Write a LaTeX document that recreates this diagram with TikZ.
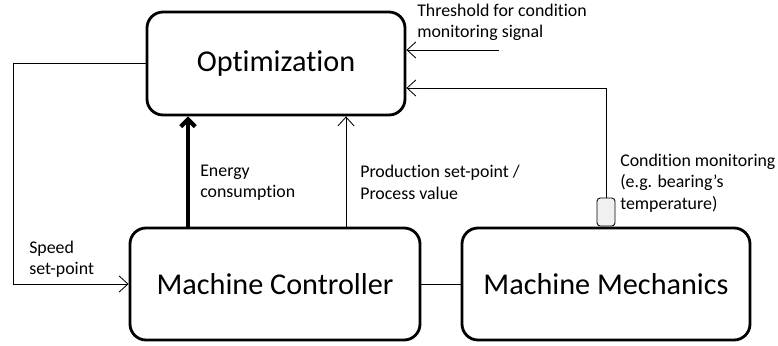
\documentclass[tikz,border=0pt]{standalone}
\usepackage{fontspec}
\setmainfont{Carlito}[Ligatures=NoCommon]
\usetikzlibrary{arrows.meta}
\tikzset{
	block/.style={draw, line width=2pt, rounded corners=0.4cm, font=\fontsize{21.5}{26}\selectfont},
	sensor/.style={draw, line width=0.6pt, rounded corners=0.08cm, fill=gray!12, minimum width=0.45cm, minimum height=0.7cm, inner sep=0pt},
	lbl/.style={align=left, anchor=west, inner sep=0pt, font=\fontsize{12.7}{15.2}\selectfont},
	signal/.style={line width=0.6pt, -{Straight Barb[length=2.2mm, width=4mm]}},
	energy/.style={line width=3pt, -{Straight Barb[length=1.8mm, width=3.6mm]}}
}
\begin{document}
\begin{tikzpicture}
	\useasboundingbox (0,0) rectangle (19.45,-8.625);
	\node[block, minimum width=6.45cm, minimum height=2.575cm] (Opt) at (6.9, -1.5875) {Optimization};
	\node[block, minimum width=7.25cm, minimum height=2.8cm] (MC) at (6.875, -7.1) {Machine Controller};
	\node[block, minimum width=7.2cm, minimum height=2.8cm] (MM) at (15.15, -7.1) {Machine Mechanics};
	\node[sensor] (S) at (15.15, -5.3) {};
	\coordinate (eX) at (4.7, 0);
	\coordinate (pX) at (8.65, 0);
	\coordinate (lX) at (0.325, -1.575);
	\coordinate (cY) at (15.15, -2.2);
	\coordinate (T) at (12.475, -1.25);
	% feedback loops
	\draw[signal] (Opt.west |- lX) -- (lX) |- (MC.west);
	\draw[energy] (MC.north -| eX) -- (Opt.south -| eX);
	\draw[signal] (MC.north -| pX) -- (Opt.south -| pX);
	\draw[line width=0.6pt] (MC.east) -- (MM.west);
	\draw[signal] (S.north) -- (cY) -- (Opt.east |- cY);
	\draw[signal] (T) -- (Opt.east |- T);
	% labels
	\node[lbl] (L_speed) at (0.725, -6.475) {Speed\\set-point};
	\node[lbl] (L_energy) at (5.0, -4.56) {Energy\\consumption};
	\node[lbl] (L_prod) at (9.0, -4.56) {Production set-point /\\Process value};
	\node[lbl] (L_thr) at (10.425, -0.5625) {Threshold for condition\\monitoring signal};
	\node[lbl] (L_cond) at (15.5, -4.575) {Condition monitoring\\(e.g. bearing’s\\temperature)};
\end{tikzpicture}
\end{document}
